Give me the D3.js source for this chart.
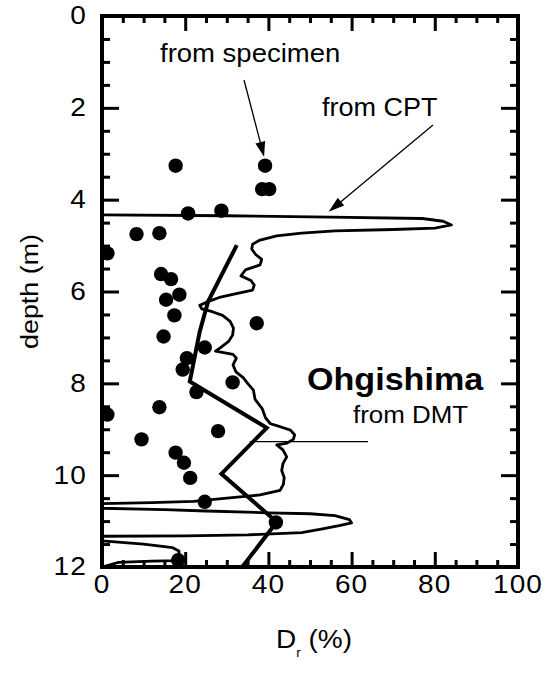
<!DOCTYPE html>
<html><head><meta charset="utf-8">
<script src="https://cdn.jsdelivr.net/npm/d3@7"></script>
<style>body{margin:0;background:#fff}svg{display:block}</style></head>
<body><svg id="c" width="555" height="679"></svg>
<script>
// ---- data ----
const xTickLabels = [0, 20, 40, 60, 80, 100];
const yTickLabels = [0, 2, 4, 6, 8, 10, 12];

// from specimen (Dr %, depth m)
const specimenDr    = [17.7, 39.2, 38.5, 40.2, 20.7, 28.7, 8.3, 13.8, 1.3, 14.2, 16.6, 15.4, 18.6, 17.4, 37.2, 14.8, 24.7, 20.4, 19.4, 31.4, 22.7, 13.8, 1.3, 27.9, 9.5, 17.7, 19.7, 21.2, 24.7, 41.8, 18.3];
const specimenDepth = [3.26, 3.26, 3.77, 3.77, 4.30, 4.24, 4.75, 4.73, 5.17, 5.62, 5.73, 6.18, 6.07, 6.52, 6.69, 6.98, 7.22, 7.45, 7.70, 7.98, 8.19, 8.52, 8.68, 9.04, 9.22, 9.51, 9.73, 10.06, 10.58, 11.03, 11.85];

// from CPT
const cptDepth = [4.33, 4.35, 4.38, 4.41, 4.47, 4.55, 4.62, 4.65, 4.68, 4.73, 4.79, 4.88, 4.97, 5.08, 5.2, 5.3, 5.42, 5.53, 5.66, 5.76, 5.86, 5.97, 6.05, 6.12, 6.22, 6.3, 6.38, 6.44, 6.52, 6.65, 6.8, 6.95, 7.08, 7.22, 7.3, 7.37, 7.45, 7.6, 7.75, 7.88, 8.0, 8.15, 8.35, 8.55, 8.75, 8.88, 8.95, 9.02, 9.12, 9.22, 9.3, 9.34, 9.45, 9.6, 9.75, 9.9, 10.05, 10.2, 10.33, 10.43, 10.5, 10.57, 10.6, 10.62, 10.72, 10.75, 10.78, 10.82, 10.84, 10.88, 10.97, 11.04, 11.1, 11.17, 11.25, 11.3, 11.32, 11.33, 11.43, 11.5, 11.58, 11.65, 11.86, 11.87, 11.9, 12.0];
const cptDr    = [0, 30, 55, 77, 82, 84, 80, 70, 56, 48, 42, 38, 36.2, 36, 37, 38.4, 38, 34.5, 33.4, 35.8, 36.6, 36.2, 32, 28.5, 25.5, 23.5, 24, 26.5, 29, 30.8, 31.6, 31.4, 30.5, 28.5, 27.3, 31.5, 32.3, 31.5, 32.2, 34, 35, 36.4, 36.8, 38.5, 39.3, 40.5, 43, 45.3, 46.3, 46, 44.5, 42, 43.5, 44.4, 43.5, 43.2, 43.8, 43.6, 42.8, 38, 30, 22, 12, 0, 0, 15, 25, 40, 50, 56, 59.5, 60, 57, 53, 48, 35, 20, 0, 0, 10, 17, 18.5, 18.5, 12, 4, 0];

// from DMT
const dmtDepth = [4.99, 6.22, 6.87, 7.96, 8.97, 9.97, 11.02, 12.0];
const dmtDr    = [32.4, 25.5, 23.5, 21.1, 39.6, 28.7, 42.0, 33.7];

// ---- chart ----
const svg = d3.select('#c');
const FONT = '"Liberation Sans", Arial, Helvetica, sans-serif';
const x = d3.scaleLinear().domain([0, 100]).range([102, 518]);
const y = d3.scaleLinear().domain([0, 12]).range([16, 567]);

// ticks (inward)
function ticks(axisFn, vals, size, tx) {
  const g = svg.append('g').attr('transform', tx)
    .call(axisFn.tickValues(vals).tickSize(-size).tickFormat(''));
  g.select('.domain').remove();
  g.selectAll('line').attr('stroke', '#000').attr('stroke-width', 3);
}
const minorX = d3.range(5, 100, 5).filter(v => v % 20 !== 0);
const majorX = [20, 40, 60, 80];
const minorY = d3.range(0.5, 12, 0.5).filter(v => v % 2 !== 0);
const majorY = [2, 4, 6, 8, 10];
ticks(d3.axisBottom(x), minorX, 7, `translate(0,${y(12)})`);
ticks(d3.axisBottom(x), majorX, 15, `translate(0,${y(12)})`);
ticks(d3.axisTop(x), minorX, 7, `translate(0,${y(0)})`);
ticks(d3.axisTop(x), majorX, 15, `translate(0,${y(0)})`);
ticks(d3.axisLeft(y), minorY, 8, `translate(${x(0)},0)`);
ticks(d3.axisLeft(y), majorY, 17, `translate(${x(0)},0)`);
ticks(d3.axisRight(y), minorY, 8, `translate(${x(100)},0)`);
ticks(d3.axisRight(y), majorY, 17, `translate(${x(100)},0)`);

// frame
svg.append('rect').attr('x', x(0)).attr('y', y(0))
  .attr('width', x(100) - x(0)).attr('height', y(12) - y(0))
  .attr('fill', 'none').attr('stroke', '#000').attr('stroke-width', 4);

// text helper (slightly wide face like the original)
function txt(s, px, py, opts = {}) {
  const t = svg.append('text')
    .attr('transform', `translate(${px},${py})` + (opts.rot ? ` rotate(${opts.rot})` : '') + ` scale(${opts.sx || 1.12},1)`)
    .attr('font-family', FONT).attr('font-size', opts.size || 24)
    .attr('font-weight', opts.bold ? 'bold' : 'normal')
    .attr('text-anchor', opts.anchor || 'start')
    .attr('dominant-baseline', opts.base || 'auto')
    .attr('fill', '#000');
  if (opts.ls) t.attr('letter-spacing', opts.ls);
  t.text(s);
  return t;
}

// tick labels
yTickLabels.forEach(v => txt(String(v), 87, y(v), {anchor: 'end', base: 'central', size: 25, ls: 1}));
xTickLabels.forEach(v => txt(String(v), x(v), 585, {anchor: 'middle', base: 'central', size: 25, ls: 1}));

// axis titles
txt('depth  (m)', 30, (y(0) + y(12)) / 2, {rot: -90, anchor: 'middle', base: 'central', size: 24});
const xt = txt('D', 276, 648, {size: 25});
xt.append('tspan').attr('font-size', 12).attr('dy', 9).text('r');
xt.append('tspan').attr('dy', -9).text(' (%)');

// CPT line
const line = d3.line().x(d => x(d[1])).y(d => y(d[0]));
svg.append('path').datum(cptDepth.map((d, i) => [d, cptDr[i]]))
  .attr('d', line).attr('fill', 'none').attr('stroke', '#000')
  .attr('stroke-width', 2.8).attr('stroke-linejoin', 'round');

// DMT line
svg.append('path').datum(dmtDepth.map((d, i) => [d, dmtDr[i]]))
  .attr('d', line).attr('fill', 'none').attr('stroke', '#000')
  .attr('stroke-width', 4).attr('stroke-linejoin', 'miter');

// specimen dots
svg.append('g').selectAll('circle')
  .data(specimenDepth.map((d, i) => [d, specimenDr[i]]))
  .join('circle')
  .attr('cx', d => x(d[1])).attr('cy', d => y(d[0])).attr('r', 7.2)
  .attr('fill', '#000');

// annotations
txt('from specimen', 160, 62, {size: 25, sx: 1.1});
txt('from CPT', 322, 116, {size: 25, sx: 1.08});
txt('Ohgishima', 307, 390, {size: 31, bold: true, sx: 1.1});
txt('from DMT', 353, 423, {size: 24, sx: 1.08});

function arrow(x1, y1, x2, y2, len, w) {
  const a = Math.atan2(y2 - y1, x2 - x1);
  svg.append('line').attr('x1', x1).attr('y1', y1)
    .attr('x2', x2 - Math.cos(a) * len * 0.8).attr('y2', y2 - Math.sin(a) * len * 0.8)
    .attr('stroke', '#000').attr('stroke-width', 1.3);
  const bx = x2 - Math.cos(a) * len, by = y2 - Math.sin(a) * len;
  const px = -Math.sin(a) * w / 2, py = Math.cos(a) * w / 2;
  svg.append('path').attr('d', `M${x2},${y2}L${bx + px},${by + py}L${bx - px},${by - py}Z`).attr('fill', '#000');
}
arrow(244, 80, x(39.2) - 1, y(3.26) - 9, 15, 10);
arrow(433, 125, x(54) + 2, y(4.33) - 3, 16, 10);
svg.append('line').attr('x1', x(35.5)).attr('x2', 368).attr('y1', y(9.27)).attr('y2', y(9.27))
  .attr('stroke', '#000').attr('stroke-width', 1.3);
</script>
</body></html>
